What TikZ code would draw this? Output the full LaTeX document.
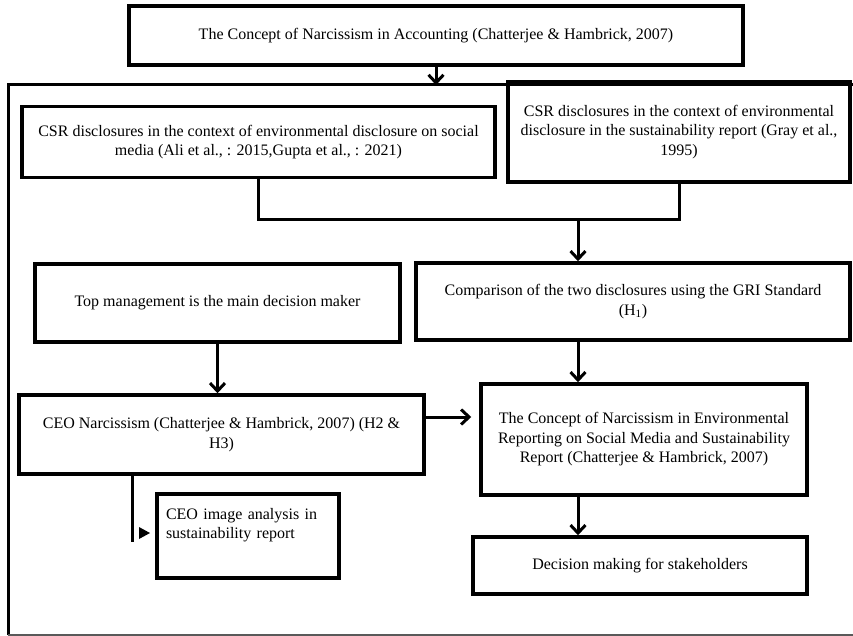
\documentclass[tikz,border=0pt]{standalone}
\usepackage{fontspec}
\setmainfont{Liberation Serif}
\usetikzlibrary{arrows.meta}

\begin{document}
\begin{tikzpicture}[
  x=1pt, y=-1pt,
  box/.style={draw, line width=3.5pt, inner sep=0pt, align=center, font=\fontsize{16}{19.5}\selectfont},
  arr/.style={line width=3pt, -{Straight Barb[length=8pt,width=15pt]}},
  link/.style={line width=3pt}
]
\useasboundingbox (0,0) rectangle (853,636);

% Outer frame
\coordinate (frameTL) at (8,85);
\coordinate (frameBL) at (8,635);
\coordinate (frameTR) at (860,85);
\coordinate (frameBR) at (860,635);
\draw[link] (frameBL) -- (frameTL) -- (frameTR);
\draw[black!65, line width=1.5pt] (frameBL) -- (frameBR);

% Top concept
\node[box, minimum width=614, minimum height=59] (top) at (436,35.5)
  {The Concept of Narcissism in Accounting (Chatterjee \& Hambrick, 2007)};
\draw[arr] (top.south) -- (top.south |- frameTL);

% Two CSR disclosures
\node[box, minimum width=473, minimum height=71] (csrL) at (258.5,142)
  {CSR disclosures in the context of environmental disclosure on social\\
   media (Ali et al., : 2015,Gupta et al., : 2021)};
\node[box, minimum width=342, minimum height=100] (csrR) at (679,132)
  {CSR disclosures in the context of environmental\\
   disclosure in the sustainability report (Gray et al.,\\
   1995)};
\coordinate (bar) at (578,220);
\draw[link] (csrL.south) |- (bar) -| (csrR.south);

% Middle row
\node[box, minimum width=365, minimum height=78] (mgmt) at (217.5,303)
  {Top management is the main decision maker};
\node[box, minimum width=434, minimum height=77] (cmp) at (633,301.5)
  {Comparison of the two disclosures using the GRI Standard\\
   (H\textsubscript{1})};
\draw[arr] (bar) -- (bar |- cmp.north);

% Narcissism row
\node[box, minimum width=405, minimum height=79] (ceo) at (221.5,434.5)
  {CEO Narcissism (Chatterjee \& Hambrick, 2007) (H2 \&\\
   H3)};
\node[box, minimum width=326, minimum height=111] (env) at (644,439.5)
  {The Concept of Narcissism in Environmental\\
   Reporting on Social Media and Sustainability\\
   Report (Chatterjee \& Hambrick, 2007)};
\draw[arr] (mgmt.south) -- (mgmt.south |- ceo.north);
\draw[arr] (bar |- cmp.south) -- (bar |- env.north);
\draw[arr, shorten >=8pt] ([yshift=17.5pt]ceo.east) -- ([yshift=17.5pt]ceo.east -| env.west);

% Bottom row
\node[box, minimum width=182, minimum height=84, text width=164, align=left] (img) at (248,536)
  {CEO image analysis in\\
   sustainability report\\
   \strut};
\node[box, minimum width=334, minimum height=57] (dec) at (640,565.5)
  {Decision making for stakeholders};
\coordinate (elbow) at (132,542);
\draw[link] (ceo.south -| elbow) -- (elbow);
\fill (139,527) -- (150,533) -- (139,539) -- cycle;
\draw[arr] (bar |- env.south) -- (bar |- dec.north);
\end{tikzpicture}
\end{document}
